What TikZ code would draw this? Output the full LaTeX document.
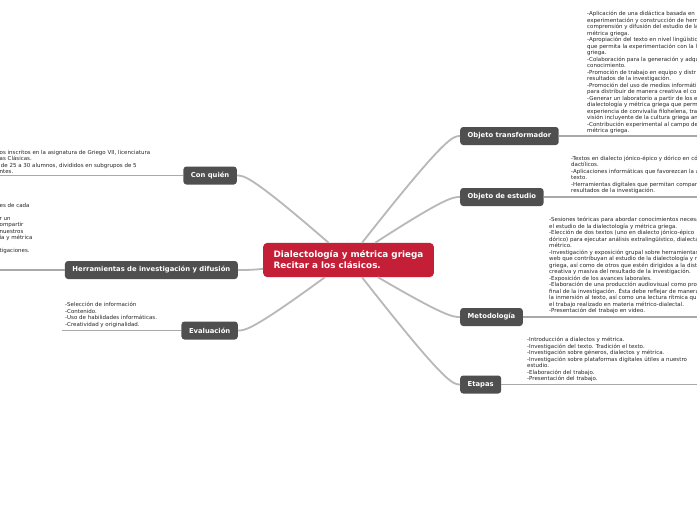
\documentclass[tikz,border=0pt]{standalone}
\usepackage{fontspec}
\setmainfont{DejaVu Sans}
\usepackage{xcolor}
\usepackage{tikz}
\usetikzlibrary{calc}

\definecolor{mapred}{HTML}{C51F38}
\definecolor{topicgray}{HTML}{4F4F4F}
\definecolor{linkgray}{HTML}{B8B8B8}
\definecolor{rulegray}{HTML}{A9A9A9}

\begin{document}
\begin{tikzpicture}[
  x=1pt, y=-1pt,
  central/.style={fill=mapred, text=white, rounded corners=4pt, align=left, inner xsep=10.5pt, inner ysep=8pt, font=\fontsize{8.8}{11}\selectfont\bfseries},
  topic/.style={fill=topicgray, text=white, rounded corners=3pt, minimum height=18pt, inner xsep=7.5pt, font=\fontsize{6.8}{8}\selectfont\bfseries},
  leaf/.style={align=left, anchor=south west, inner xsep=3pt, inner ysep=0pt, text=black!85, font=\fontsize{5.5}{6.5}\selectfont},
  link/.style={draw=linkgray, line width=1.8pt},
  rule/.style={draw=rulegray, line width=1.3pt}
]
  \useasboundingbox (0,0) rectangle (697,520);
  \fill[white] (0,0) rectangle (697,520);
  \clip (0,0) rectangle (697,520);
  \coordinate (lim) at (0,0);
  \coordinate (rim) at (697,0);

  % centro y ramas
  \node[central] (c) at (348.5,260) {Dialectología y métrica griega\\Recitar a los clásicos.};
  \node[topic, anchor=west] (ot) at (460,136) {Objeto transformador};
  \node[topic, anchor=west] (oe) at (460,197) {Objeto de estudio};
  \node[topic, anchor=west] (me) at (460,317) {Metodología};
  \node[topic, anchor=west] (et) at (460,384.5) {Etapas};
  \node[topic, anchor=east] (cq) at (237,175.5) {Con quién};
  \node[topic, anchor=east] (hd) at (238,270) {Herramientas de investigación y difusión};
  \node[topic, anchor=east] (ev) at (238,330.5) {Evaluación};

  % textos de cada rama
  \node[leaf] (ott) at (584,134) {-Aplicación de una didáctica basada en l\\experimentación y construcción de herr\\comprensión y difusión del estudio de la\\métrica griega.\\-Apropiación del texto en nivel lingüístic\\que permita la experimentación con la l\\griega.\\-Colaboración para la generación y adqu\\conocimiento.\\-Promoción de trabajo en equipo y distr\\resultados de la investigación.\\-Promoción del uso de medios informáti\\para distribuir de manera creativa el co\\-Generar un laboratorio a partir de los e\\dialectología y métrica griega que perm\\experiencia de convivalia filohelena, tra\\visión incluyente de la cultura griega an\\-Contribución experimental al campo de\\métrica griega.};
  \node[leaf] (oet) at (568,194.3) {-Textos en dialecto jónico-épico y dórico en có\\dactílicos.\\-Aplicaciones informáticas que favorezcan la a\\texto.\\-Herramientas digitales que permitan compar\\resultados de la investigación.};
  \node[leaf] (met) at (546,314) {-Sesiones teóricas para abordar conocimientos necesa\\el estudio de la dialectología y métrica griega.\\-Elección de dos textos (uno en dialecto jónico-épico\\dórico) para ejecutar análisis extralingüístico, dialecta\\métrico.\\-Investigación y exposición grupal sobre herramientas\\web que contribuyan al estudio de la dialectología y m\\griega, así como de otros que estén dirigidos a la dist\\creativa y masiva del resultado de la investigación.\\-Exposición de los avances laborales.\\-Elaboración de una producción audiovisual como pro\\final de la investigación. Ésta debe reflejar de manera\\la inmersión al texto, así como una lectura rítmica qu\\el trabajo realizado en materia métrico-dialectal.\\-Presentación del trabajo en video.};
  \node[leaf] (ett) at (524,382) {-Introducción a dialectos y métrica.\\-Investigación del texto. Tradición el texto.\\-Investigación sobre géneros, dialectos y métrica.\\-Investigación sobre plataformas digitales útiles a nuestro\\estudio.\\-Elaboración del trabajo.\\-Presentación del trabajo.};
  \node[leaf] (cqt) at (-3.5,174) {os inscritos en la asignatura de Griego VII, licenciatura\\as Clásicas.\\\hspace*{1.2pt}de 25 a 30 alumnos, divididos en subgrupos de 5\\ntes.};
  \node[leaf] (hdt) at (-3.5,254) {es de cada\\\mbox{}\\r un\\ompartir\\nuestros\\ía y métrica\\\mbox{}\\tigaciones.};
  \node[leaf] (evt) at (62,327.7) {-Selección de información\\-Contenido.\\-Uso de habilidades informáticas.\\-Creatividad y originalidad.};

  % conectores
  \draw[link] (c) .. controls ($(ot.west)+(-14,0)$) and ($(ot.west)+(-7,0)$) .. (ot.west);
  \draw[link] (c) .. controls ($(oe.west)+(-14,0)$) and ($(oe.west)+(-7,0)$) .. (oe.west);
  \draw[link] (c) .. controls ($(me.west)+(-14,0)$) and ($(me.west)+(-7,0)$) .. (me.west);
  \draw[link] (c) .. controls ($(et.west)+(-14,0)$) and ($(et.west)+(-7,0)$) .. (et.west);
  \draw[link] (c) .. controls ($(cq.east)+(14,0)$) and ($(cq.east)+(7,0)$) .. (cq.east);
  \draw[link] (c) .. controls ($(hd.east)+(14,0)$) and ($(hd.east)+(7,0)$) .. (hd.east);
  \draw[link] (c) .. controls ($(ev.east)+(14,0)$) and ($(ev.east)+(7,0)$) .. (ev.east);

  % lineas bajo los textos
  \draw[rule] (ot.east) -- (ot.east -| rim);
  \draw[rule] (oe.east) -- (oe.east -| rim);
  \draw[rule] (me.east) -- (me.east -| rim);
  \draw[rule] (et.east) -- (et.east -| rim);
  \draw[rule] (cq.west) -- (cq.west -| lim);
  \draw[rule] (hd.west) -- (hd.west -| lim);
  \draw[rule] (ev.west) -- (ev.west -| evt.west);
\end{tikzpicture}
\end{document}
